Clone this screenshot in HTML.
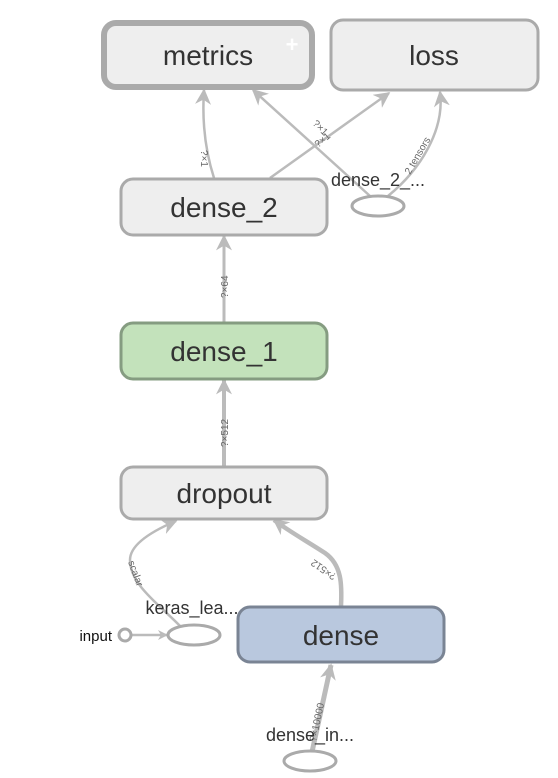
<!DOCTYPE html>
<html><head><meta charset="utf-8"><style>
html,body{margin:0;padding:0;background:#fff;}
svg{display:block;font-family:"Liberation Sans",sans-serif;}
.n{font-size:28px;fill:#333;text-anchor:middle;}
.s{font-size:10px;fill:#666;}
.e{fill:none;stroke:#bbb;}
</style></head><body>
<svg width="558" height="778" viewBox="0 0 558 778">
<defs>
<marker id="a" viewBox="0 0 10 10" refX="9" refY="5" markerWidth="10" markerHeight="10" markerUnits="userSpaceOnUse" orient="auto"><path d="M0,0 L10,5 L0,10 L3,5 z" fill="#bbb"/></marker>
<marker id="b" viewBox="0 0 10 10" refX="9" refY="5" markerWidth="16" markerHeight="16" markerUnits="userSpaceOnUse" orient="auto"><path d="M0,0 L10,5 L0,10 L3,5 z" fill="#bbb"/></marker>
</defs>
<path class="e" stroke-width="2.5" d="M214,178 C205,150 202,120 204,90" marker-end="url(#b)"/>
<path class="e" stroke-width="2.5" d="M270,178 L389,93" marker-end="url(#b)"/>
<path class="e" stroke-width="2.5" d="M370,196 L253,90" marker-end="url(#b)"/>
<path class="e" stroke-width="2.5" d="M388,196 C420,170 445,130 440,92" marker-end="url(#b)"/>
<path class="e" stroke-width="3" d="M224,322 L224,236" marker-end="url(#b)"/>
<path class="e" stroke-width="4" d="M224,466 L224,380" marker-end="url(#b)"/>
<path class="e" stroke-width="2.5" d="M181,627 C160,605 130,585 130,560 C130,545 150,532 176,521" marker-end="url(#b)"/>
<path class="e" stroke-width="4.5" d="M341,606 C342,585 342,565 325,553 C305,540 290,532 274,520" marker-end="url(#b)"/>
<path class="e" stroke-width="5" d="M312,752 L331,665" marker-end="url(#b)"/>
<path class="e" stroke-width="2.5" d="M131,635 L167,635" marker-end="url(#a)"/>
<text class="s" transform="translate(201,150) rotate(90)">?×1</text>
<text class="s" transform="translate(312,124) rotate(45)">?×1</text>
<text class="s" transform="translate(318,148) rotate(-40)">?×1</text>
<text class="s" transform="translate(410,175) rotate(-60)">2 tensors</text>
<text class="s" transform="translate(228,298) rotate(-90)">?×64</text>
<text class="s" transform="translate(228,447) rotate(-90)">?×512</text>
<text class="s" transform="translate(128,562) rotate(70)">scalar</text>
<text class="s" transform="translate(337,575) rotate(-145)">?×512</text>
<text class="s" transform="translate(316,742) rotate(-78)">?×10000</text>
<rect x="104" y="23" width="208" height="64" rx="12" fill="#eee" stroke="#aaa" stroke-width="6"/>
<text class="n" x="208" y="65">metrics</text>
<text x="292" y="52" font-size="22" fill="#fff" text-anchor="middle" font-weight="bold">+</text>
<rect x="331" y="20" width="207" height="70" rx="12" fill="#eee" stroke="#aaa" stroke-width="3"/>
<text class="n" x="434" y="65">loss</text>
<rect x="121" y="179" width="206" height="56" rx="12" fill="#eee" stroke="#aaa" stroke-width="3"/>
<text class="n" x="224" y="217">dense_2</text>
<rect x="121" y="323" width="206" height="56" rx="12" fill="#c3e2bb" stroke="#859c81" stroke-width="3"/>
<text class="n" x="224" y="361">dense_1</text>
<rect x="121" y="467" width="206" height="52" rx="12" fill="#eee" stroke="#aaa" stroke-width="3"/>
<text class="n" x="224" y="503">dropout</text>
<rect x="238" y="607" width="206" height="55" rx="12" fill="#b9c8de" stroke="#7a8494" stroke-width="3"/>
<text class="n" x="341" y="645">dense</text>
<ellipse cx="378" cy="206" rx="26" ry="10" fill="#fff" stroke="#aaa" stroke-width="3"/>
<text x="378" y="186" font-size="18" fill="#333" text-anchor="middle">dense_2_...</text>
<ellipse cx="194" cy="635" rx="26" ry="10" fill="#fff" stroke="#aaa" stroke-width="3"/>
<text x="192" y="614" font-size="18" fill="#333" text-anchor="middle">keras_lea...</text>
<circle cx="125" cy="635" r="6" fill="#fff" stroke="#aaa" stroke-width="3"/>
<text x="112" y="641" font-size="15" fill="#111" text-anchor="end">input</text>
<ellipse cx="310" cy="761" rx="26" ry="10" fill="#fff" stroke="#aaa" stroke-width="3"/>
<text x="310" y="741" font-size="18" fill="#333" text-anchor="middle">dense_in...</text>
</svg>
</body></html>
